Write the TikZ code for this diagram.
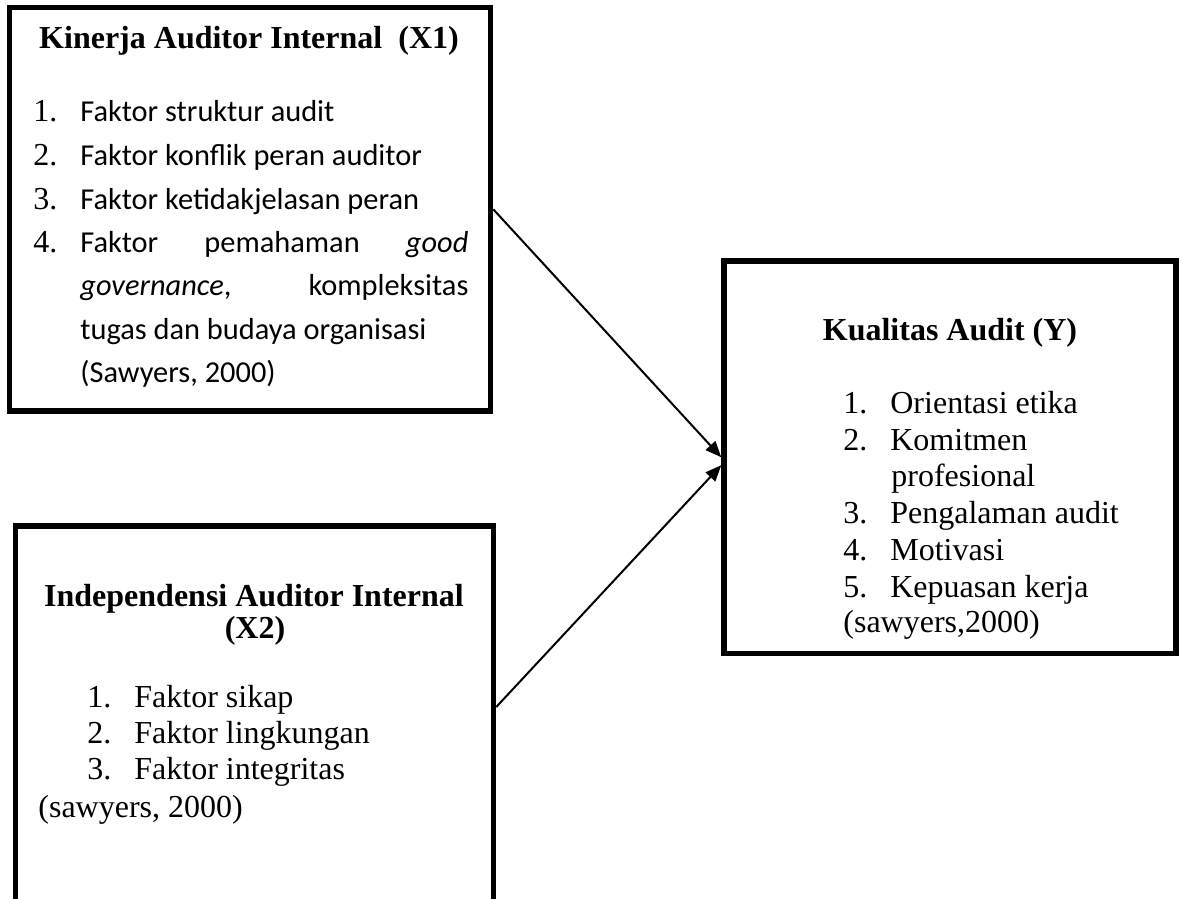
\documentclass[tikz,border=0pt]{standalone}
\usepackage{fontspec}
\setmainfont{Liberation Serif}
\newfontfamily\calibri{Carlito}
\usetikzlibrary{arrows.meta,positioning}

\newcommand{\nmr}[1]{\makebox[23.5pt][l]{\rmfamily\fontsize{16}{18}\selectfont #1}}

\begin{document}
\begin{tikzpicture}[x=0.5pt,y=-0.5pt,>={Triangle[length=8pt,width=6.5pt]},
  var box/.style={draw,line width=2.75pt,inner sep=0pt},
  head/.style={font=\fontsize{16}{18.35}\selectfont\bfseries,inner sep=0pt,anchor=base},
  item/.style={font=\fontsize{16}{18.35}\selectfont,inner sep=0pt,anchor=base west},
  citem/.style={font=\fontsize{15.2}{21.65}\selectfont\calibri,inner sep=0pt,anchor=base west}]

 \path[use as bounding box] (0,0) rectangle (1183,899);
 \clip (0,0) rectangle (1183,899);

 % boxes
 \node[var box,minimum width=240.5pt,minimum height=201.75pt] (x1) at (250,209.25) {};
 \node[var box,minimum width=239pt,minimum height=217pt] (x2) at (254.5,743) {};
 \node[var box,minimum width=226pt,minimum height=196.25pt] (y) at (950,457.25) {};

 % Kinerja Auditor Internal
 \node[head] (x1head) at (249,49) {Kinerja Auditor Internal\ \ (X1)};
 \node[citem] (x1a) at (33,122) {\nmr{1.}Faktor struktur audit};
 \node[citem] (x1b) at (33,165) {\nmr{2.}Faktor konflik peran auditor};
 \node[citem] (x1c) at (33,209) {\nmr{3.}Faktor ketidakjelasan peran};
 \node[citem] (x1d) at (33,252) {\nmr{4.}\makebox[194pt][s]{Faktor pemahaman \textit{good}}};
 \node[citem] (x1e) at (80,295) {\makebox[194pt][s]{\textit{governance}, kompleksitas}};
 \node[citem] (x1f) at (80,339) {tugas dan budaya organisasi};
 \node[citem] (x1src) at (80,382) {(Sawyers, 2000)};

 % Independensi Auditor Internal
 \node[head] (x2head) at (254,606) {Independensi Auditor Internal};
 \node[head] (x2headb) at (255,638) {(X2)};
 \node[item] (x2a) at (87,707) {\nmr{1.}Faktor sikap};
 \node[item] (x2b) at (87,743) {\nmr{2.}Faktor lingkungan};
 \node[item] (x2c) at (87,779) {\nmr{3.}Faktor integritas};
 \node[item] (x2src) at (38,817) {(sawyers, 2000)};

 % Kualitas Audit
 \node[head] (yhead) at (950,340) {Kualitas Audit (Y)};
 \node[item] (ya) at (843,413) {\nmr{1.}Orientasi etika};
 \node[item] (yb) at (843,450) {\nmr{2.}Komitmen};
 \node[item] (yb2) at (891,486) {profesional};
 \node[item] (yc) at (843,523) {\nmr{3.}Pengalaman audit};
 \node[item] (yd) at (843,560) {\nmr{4.}Motivasi};
 \node[item] (ye) at (843,597) {\nmr{5.}Kepuasan kerja};
 \node[item] (ysrc) at (843,632) {(sawyers,2000)};

 \draw[->,line width=1pt] (x1.east) -- (y.west);
 \draw[->,line width=1pt] ([yshift=18pt]x2.east) -- ([yshift=-4pt]y.west);

\end{tikzpicture}
\end{document}
